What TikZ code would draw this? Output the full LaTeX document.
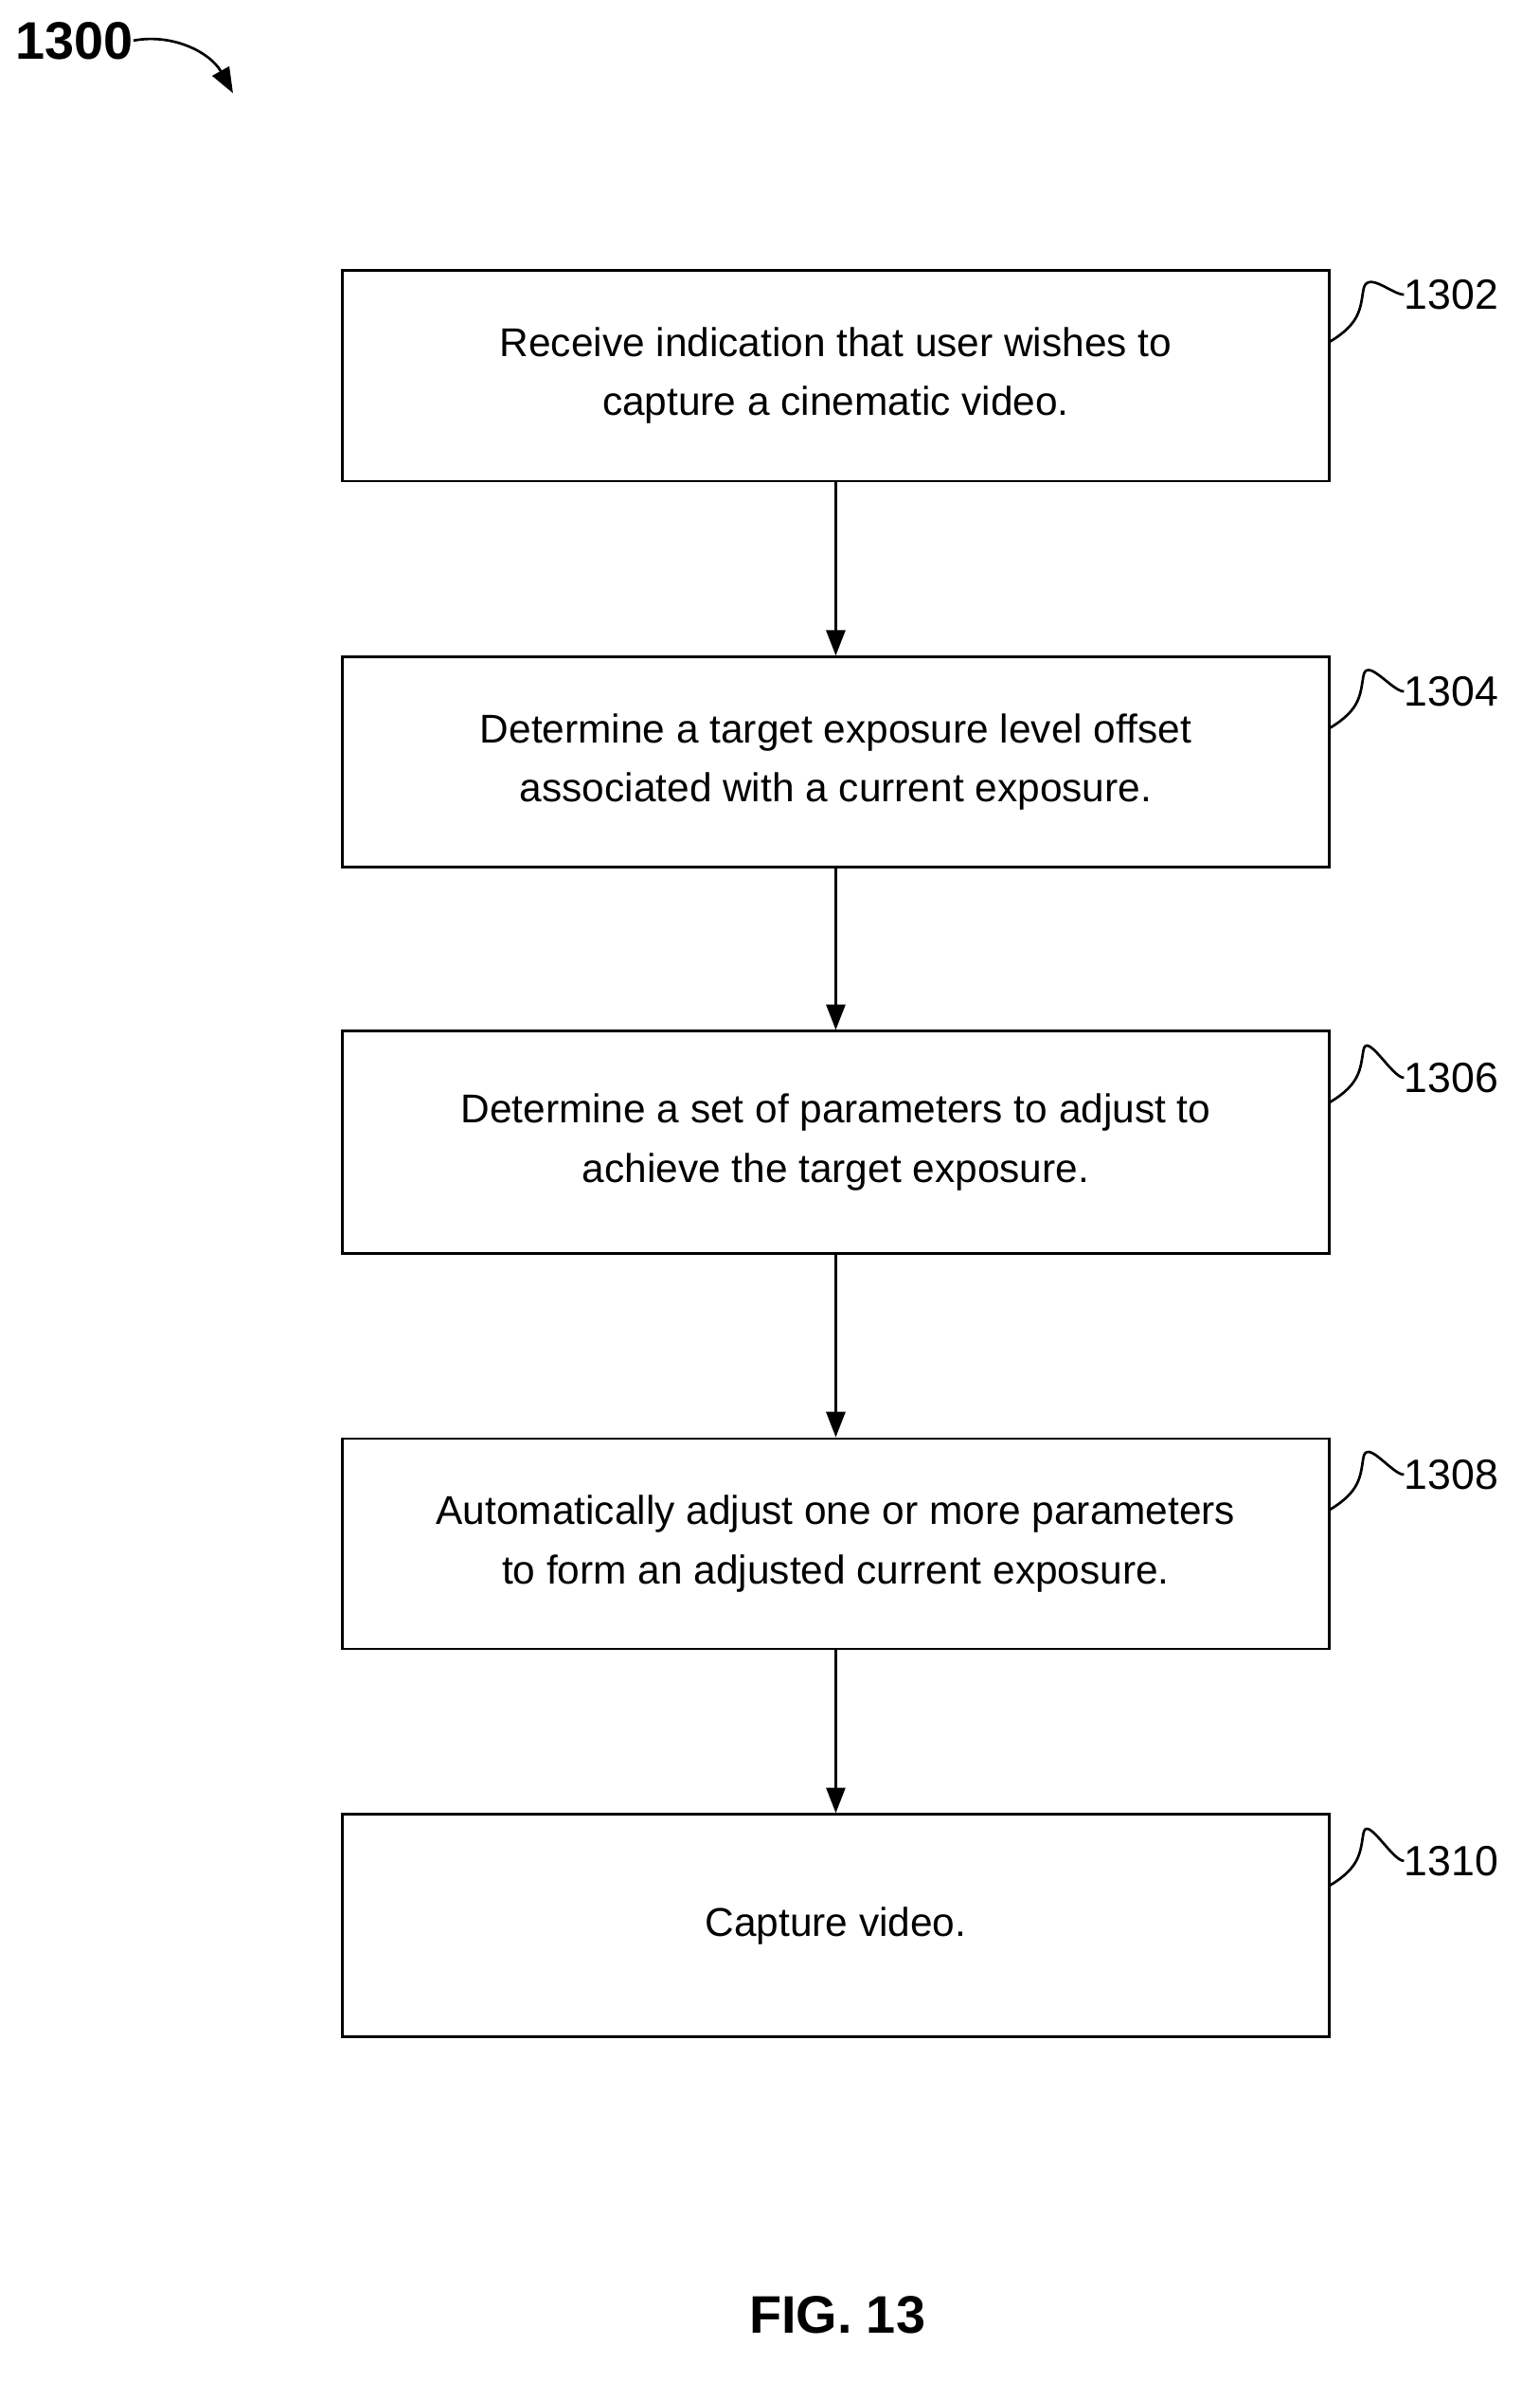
\documentclass[tikz,border=0pt]{standalone}
\usepackage{fontspec}
\setmainfont{Liberation Sans}
\usetikzlibrary{arrows.meta}
\tikzset{
  stepbox/.style={draw, line width=1.2pt, minimum width=16.4cm, minimum height=3.5cm, align=center, font=\fontsize{19}{28}\selectfont},
  ref/.style={anchor=west, inner sep=0pt, font=\fontsize{20}{24}\selectfont},
  flow/.style={line width=1.2pt, -{Triangle[length=12pt,width=9pt]}},
  squig/.style={line width=1.2pt}
}
\begin{document}
\begin{tikzpicture}[x=0.025cm, y=-0.025cm]
\useasboundingbox (0,0) rectangle (1024,1584);
\node[anchor=west, inner sep=0pt, font=\bfseries\fontsize{25}{30}\selectfont] (fig) at (10,27) {1300};
\coordinate (figend) at (155,62);
\draw[flow] (fig.east) .. controls (115,22) and (140,35) .. (figend);
\node[stepbox] (1302) at (556,250) {Receive indication that user wishes to\\capture a cinematic video.};
\node[stepbox] (1304) at (556,507) {Determine a target exposure level offset\\associated with a current exposure.};
\node[stepbox, minimum height=3.7cm] (1306) at (556,760) {Determine a set of parameters to adjust to\\achieve the target exposure.};
\node[stepbox] (1308) at (556,1027) {Automatically adjust one or more parameters\\to form an adjusted current exposure.};
\node[stepbox, minimum height=3.7cm] (1310) at (556,1281) {Capture video.};
\node[ref] (l1302) at (934,196) {1302};
\node[ref] (l1304) at (934,460) {1304};
\node[ref] (l1306) at (934,717) {1306};
\node[ref] (l1308) at (934,981) {1308};
\node[ref] (l1310) at (934,1238) {1310};
\foreach \n in {1302,1304,1306,1308,1310}
  \draw[squig] ([yshift=-1.2cm]\n.north east) .. controls +(20,-12) and +(-2,12) .. +(22,-34) .. controls +(2,-14) and +(-8,0) .. (l\n.west);
\draw[flow] (1302) -- (1304);
\draw[flow] (1304) -- (1306);
\draw[flow] (1306) -- (1308);
\draw[flow] (1308) -- (1310);
\node[font=\bfseries\fontsize{25}{30}\selectfont] (caption) at (557,1540) {FIG. 13};
\end{tikzpicture}
\end{document}
